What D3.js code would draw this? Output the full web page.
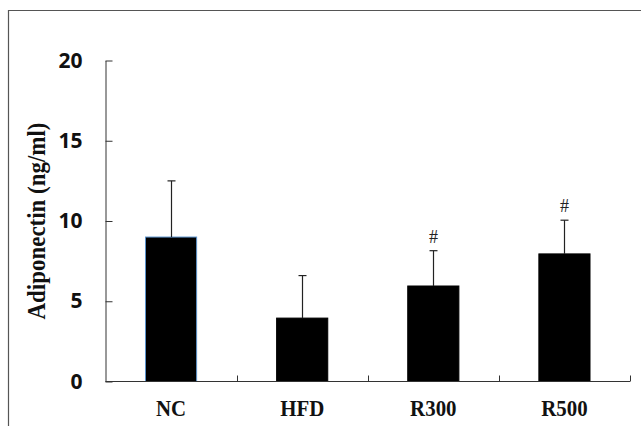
<!DOCTYPE html>
<html>
<head>
<meta charset="utf-8">
<script src="https://cdn.jsdelivr.net/npm/d3@7/dist/d3.min.js"></script>
<style>
  html, body { margin: 0; padding: 0; background: #fff; }
  svg { display: block; }
</style>
</head>
<body>
<svg id="chart" width="641" height="426"></svg>
<script>
const categories = ["NC", "HFD", "R300", "R500"];
const means = [9.0, 3.95, 5.95, 7.95];
const errors = [3.5, 2.65, 2.2, 2.1];
const marks = ["", "", "#", "#"];
const yTicks = [0, 5, 10, 15, 20];
const yLabel = "Adiponectin (ng/ml)";

const svg = d3.select("#chart");
const mLeft = 105.5, mRight = 630, mTop = 60.5, mBottom = 381.5;

// frame
svg.append("path")
  .attr("d", `M8.5,426 V10.5 H641`)
  .attr("fill", "none").attr("stroke", "#555").attr("stroke-width", 1.2);

const x = d3.scaleBand().domain(categories).range([mLeft, mRight])
  .paddingInner(0.61).paddingOuter(0.305);
const y = d3.scaleLinear().domain([0, 20]).range([mBottom, mTop]);

// bars
svg.append("g").selectAll("rect").data(categories).join("rect")
  .attr("x", d => x(d))
  .attr("y", (d, i) => y(means[i]))
  .attr("width", x.bandwidth())
  .attr("height", (d, i) => y(0) - y(means[i]))
  .attr("fill", "#000")
  .attr("stroke", (d, i) => i === 0 ? "#5b93cc" : "#000")
  .attr("stroke-width", 1);

// error bars (upper only)
const eg = svg.append("g").attr("stroke", "#222").attr("stroke-width", 1.2);
categories.forEach((c, i) => {
  const cx = Math.round(x(c) + x.bandwidth() / 2) + 0.5;
  eg.append("line").attr("x1", cx).attr("x2", cx)
    .attr("y1", y(means[i])).attr("y2", y(means[i] + errors[i]));
  eg.append("line").attr("x1", cx - 4).attr("x2", cx + 4)
    .attr("y1", y(means[i] + errors[i])).attr("y2", y(means[i] + errors[i]));
  if (marks[i]) {
    svg.append("text").attr("x", cx).attr("y", y(means[i] + errors[i]) - 8)
      .attr("text-anchor", "middle")
      .attr("font-family", "'Liberation Serif', 'Times New Roman', serif")
      .attr("font-size", 18).attr("fill", "#222").text(marks[i]);
  }
});

// y axis
const yAxis = d3.axisLeft(y).tickValues(yTicks).tickSizeInner(-7).tickSizeOuter(0).tickPadding(23);
const gy = svg.append("g").attr("transform", `translate(${mLeft},0)`).call(yAxis);
gy.select(".domain").attr("stroke", "#333");
gy.selectAll(".tick line").attr("stroke", "#333");
gy.selectAll(".tick text")
  .attr("font-family", "'Noto Sans', 'Open Sans', sans-serif")
  .attr("font-weight", "bold").attr("font-size", 21).attr("fill", "#111");

// x axis
svg.append("line").attr("x1", mLeft).attr("x2", mRight).attr("y1", mBottom).attr("y2", mBottom)
  .attr("stroke", "#333");
const bounds = d3.range(1, categories.length + 1).map(k => x.range()[0] + k * x.step());
svg.append("g").selectAll("line").data(bounds).join("line")
  .attr("x1", d => Math.round(d) + 0.5).attr("x2", d => Math.round(d) + 0.5)
  .attr("y1", mBottom).attr("y2", mBottom - 6).attr("stroke", "#333");

svg.append("g").selectAll("text").data(categories).join("text")
  .attr("transform", d => `translate(${x(d) + x.bandwidth() / 2},415.5) scale(0.95,1.08)`)
  .attr("text-anchor", "middle")
  .attr("font-family", "'Liberation Serif', 'Times New Roman', serif")
  .attr("font-weight", "bold").attr("font-size", 22).attr("fill", "#111")
  .text(d => d);

// y label
svg.append("text")
  .attr("transform", `translate(45,${(mTop + mBottom) / 2}) rotate(-90) scale(1.02,1.08)`)
  .attr("text-anchor", "middle")
  .attr("font-family", "'Liberation Serif', 'Times New Roman', serif")
  .attr("font-weight", "bold").attr("font-size", 22.5).attr("fill", "#111")
  .text(yLabel);
</script>
</body>
</html>
